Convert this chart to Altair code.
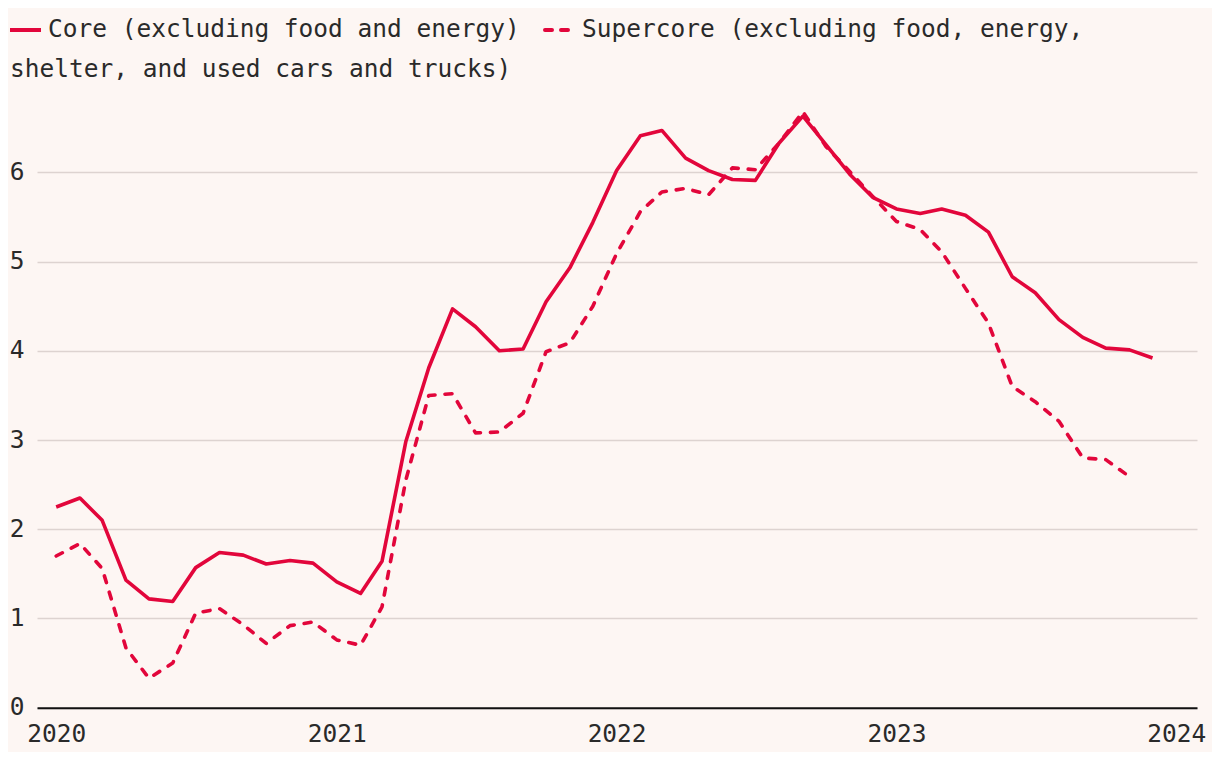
import altair as alt
import pandas as pd

# Monthly year-over-year change, percent
core = [2.25, 2.35, 2.10, 1.43, 1.22, 1.19, 1.57, 1.74, 1.71, 1.61, 1.65, 1.62,
        1.41, 1.28, 1.64, 2.98, 3.81, 4.47, 4.27, 4.00, 4.02, 4.55, 4.93, 5.44,
        6.02, 6.41, 6.47, 6.16, 6.02, 5.92, 5.91, 6.33, 6.63, 6.31, 5.98, 5.72,
        5.59, 5.54, 5.59, 5.52, 5.33, 4.83, 4.65, 4.35, 4.15, 4.03, 4.01, 3.92]
supercore = [1.70, 1.84, 1.56, 0.67, 0.33, 0.50, 1.06, 1.11, 0.93, 0.72, 0.92, 0.96,
             0.76, 0.70, 1.13, 2.55, 3.50, 3.52, 3.08, 3.09, 3.30, 3.99, 4.09, 4.50,
             5.09, 5.56, 5.78, 5.82, 5.75, 6.05, 6.03, 6.33, 6.68, 6.29, 6.01, 5.73,
             5.45, 5.36, 5.11, 4.70, 4.31, 3.60, 3.43, 3.21, 2.80, 2.78, 2.59]

core_label = "Core (excluding food and energy)"
super_label_1 = "Supercore (excluding food, energy,"
super_label_2 = "shelter, and used cars and trucks)"
y_ticks = [0, 1, 2, 3, 4, 5, 6]
x_years = [2020, 2021, 2022, 2023, 2024]

RED = "#e2063b"
BG = "#fdf6f3"
FONT = "DejaVu Sans Mono"
FS = 24.5
TXT = "#2a2a2a"

core_df = pd.DataFrame({
    "date": pd.date_range("2020-01-01", periods=len(core), freq="MS").strftime("%Y-%m-%d"),
    "value": core,
})
super_df = pd.DataFrame({
    "date": pd.date_range("2020-01-01", periods=len(supercore), freq="MS").strftime("%Y-%m-%d"),
    "value": supercore,
})

x_enc = alt.X(
    "date:T",
    scale=alt.Scale(
        type="utc",
        domain=[alt.DateTime(year=2019, month=12, date=7, utc=True),
                alt.DateTime(year=2024, month=1, date=28, utc=True)],
    ),
    axis=alt.Axis(
        title=None,
        values=[alt.DateTime(year=y, month=1, date=1, utc=True) for y in x_years],
        format="%Y",
        grid=False,
        ticks=False,
        tickSize=0,
        domain=True,
        domainColor="#111111",
        domainWidth=2,
        labelPadding=15,
        labelFont=FONT,
        labelFontSize=FS,
        labelColor=TXT,
        labelFlush=False,
    ),
)
y_enc = alt.Y(
    "value:Q",
    scale=alt.Scale(domain=[0, 6.8], nice=False),
    axis=alt.Axis(
        title=None,
        values=y_ticks,
        grid=True,
        gridColor="#ddd3d0",
        gridWidth=1.5,
        ticks=False,
        tickSize=0,
        domain=False,
        labelPadding=13,
        labelFont=FONT,
        labelFontSize=FS,
        labelColor=TXT,
    ),
)

core_line = alt.Chart(core_df).mark_line(
    color=RED, strokeWidth=3.6, strokeJoin="round"
).encode(x=x_enc, y=y_enc)

super_line = alt.Chart(super_df).mark_line(
    color=RED, strokeWidth=3.6, strokeDash=[7, 10], strokeCap="round", strokeJoin="round"
).encode(x=x_enc, y=y_enc)

# Legend drawn as text + rules above the plot
one = pd.DataFrame({"k": [0]})
leg_solid = alt.Chart(one).mark_rule(color=RED, strokeWidth=4).encode(
    x=alt.value(-27), x2=alt.value(4), y=alt.value(-71)
)
leg_dash = alt.Chart(one).mark_rule(
    color=RED, strokeWidth=4, strokeDash=[7, 9], strokeCap="round"
).encode(x=alt.value(508), x2=alt.value(532), y=alt.value(-71))
leg_text1 = alt.Chart(one).mark_text(
    align="left", baseline="middle", font=FONT, fontSize=FS, color=TXT
).encode(x=alt.value(11), y=alt.value(-71), text=alt.value(core_label))
leg_text2 = alt.Chart(one).mark_text(
    align="left", baseline="middle", font=FONT, fontSize=FS, color=TXT
).encode(x=alt.value(545), y=alt.value(-71), text=alt.value(super_label_1))
leg_text3 = alt.Chart(one).mark_text(
    align="left", baseline="middle", font=FONT, fontSize=FS, color=TXT
).encode(x=alt.value(-27), y=alt.value(-31), text=alt.value(super_label_2))

chart = alt.layer(
    core_line, super_line, leg_solid, leg_dash, leg_text1, leg_text2, leg_text3
).properties(
    width=1160,
    height=606.7,
    autosize=alt.AutoSizeParams(type="none"),
    padding={"left": 29, "top": 93, "right": 15, "bottom": 44},
    background=BG,
).configure_view(
    stroke=None
).configure_text(
    font=FONT
)

chart.save("out.html", embed_options={"renderer": "svg", "actions": False})
